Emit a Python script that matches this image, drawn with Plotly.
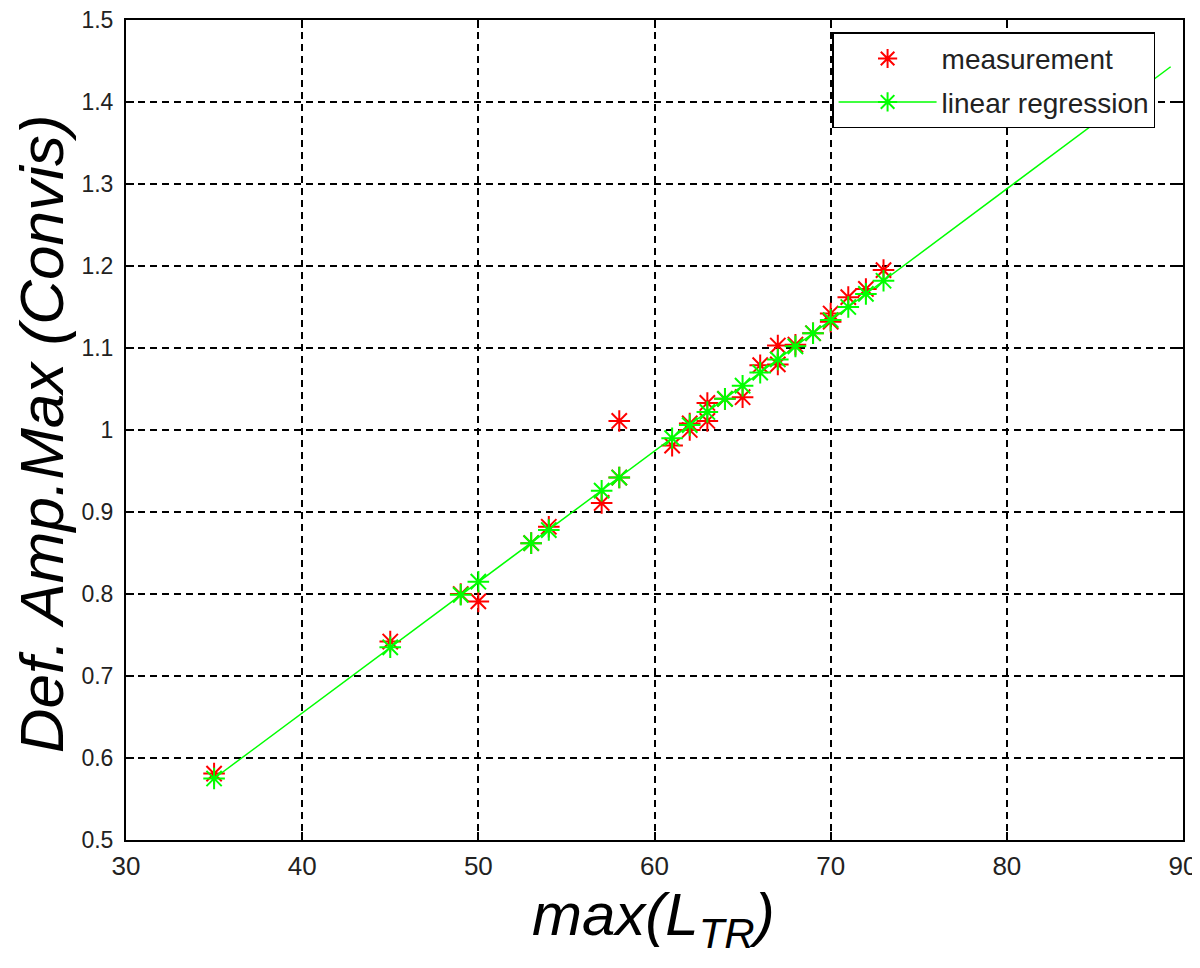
import plotly.graph_objects as go

# measurement data (red)
meas_x = [35, 45, 49, 50, 53, 54, 57, 58, 58, 61, 62, 62, 63, 63, 64, 65, 66, 67, 67, 68, 69, 70, 70, 71, 72, 73]
meas_y = [0.581, 0.742, 0.800, 0.791, 0.862, 0.882, 0.911, 1.011, 0.942, 0.981, 1.000, 1.008, 1.033, 1.011, 1.038,
          1.040, 1.079, 1.103, 1.080, 1.104, 1.118, 1.142, 1.132, 1.162, 1.172, 1.195]

# linear regression evaluated at measurement positions (green)
fit_x = [35, 45, 49, 50, 53, 54, 57, 58, 61, 62, 63, 64, 65, 66, 67, 68, 69, 70, 71, 72, 73]
fit_y = [0.575, 0.735, 0.799, 0.815, 0.862, 0.878, 0.926, 0.942, 0.990, 1.006, 1.022, 1.038, 1.054,
         1.070, 1.086, 1.102, 1.118, 1.134, 1.150, 1.166, 1.182]
# extension of the regression line (no markers)
ext_x = [73, 89.3]
ext_y = [1.182, 1.443]

x_ticks = [30, 40, 50, 60, 70, 80, 90]
y_ticks = [0.5, 0.6, 0.7, 0.8, 0.9, 1.0, 1.1, 1.2, 1.3, 1.4, 1.5]
y_tick_text = ["0.5", "0.6", "0.7", "0.8", "0.9", "1", "1.1", "1.2", "1.3", "1.4", "1.5"]

RED = "rgb(255,0,0)"
GREEN = "rgb(0,255,0)"

fig = go.Figure()
fig.add_trace(go.Scatter(
    x=ext_x, y=ext_y, mode="lines", line=dict(color=GREEN, width=1.5),
    showlegend=False, hoverinfo="skip"))
fig.add_trace(go.Scatter(
    x=meas_x, y=meas_y, mode="markers", name="measurement", legendgroup="a",
    marker=dict(symbol="asterisk-open", size=18, color=RED, line=dict(color=RED, width=2))))
fig.add_trace(go.Scatter(
    x=fit_x, y=fit_y, mode="lines+markers", name="linear regression", legendgroup="b",
    line=dict(color=GREEN, width=1.5),
    marker=dict(symbol="asterisk-open", size=18, color=GREEN, line=dict(color=GREEN, width=2))))

axis_common = dict(
    showline=True, linecolor="black", linewidth=2, mirror="ticks",
    ticks="inside", ticklen=8, tickwidth=1.5, tickcolor="black",
    showgrid=True, gridcolor="black", gridwidth=1.8, griddash="7px,5px",
    zeroline=False, automargin=False, ticklabeloverflow="allow",
)

fig.update_xaxes(
    range=[30, 90], tickvals=x_ticks, **axis_common,
    tickfont=dict(family="Liberation Sans, Arial", size=26, color="#222"),
    ticklabelstandoff=2,
)
fig.update_yaxes(
    range=[0.5, 1.5], tickvals=y_ticks, ticktext=y_tick_text, **axis_common,
    tickfont=dict(family="Liberation Sans, Arial", size=23, color="#222"),
    ticklabelstandoff=6,
)

# axis titles
fig.add_annotation(
    text="<i>max(L<sub>TR</sub>)</i>", xref="paper", yref="paper",
    x=0.4986, y=-0.048, xanchor="center", yanchor="top", showarrow=False,
    font=dict(family="Liberation Sans, Arial", size=60, color="black"),
)
fig.add_annotation(
    text="<i>Def. Amp.Max (Convis)</i>", xref="paper", yref="paper",
    x=-0.0805, y=0.496, xanchor="center", yanchor="middle", showarrow=False,
    textangle=-90,
    font=dict(family="Liberation Sans, Arial", size=62, color="black"),
)

# body of the page has an 8px margin, so margins are offset by 8px
fig.update_layout(
    width=1200, height=968,
    margin=dict(l=118, r=25, t=12, b=136),
    paper_bgcolor="white", plot_bgcolor="white",
    legend=dict(x=0.668, y=0.985, xanchor="left", yanchor="top",
                bgcolor="white", bordercolor="black", borderwidth=1.5,
                font=dict(family="Liberation Sans, Arial", size=28, color="#222"),
                itemwidth=98, tracegroupgap=4),
)

fig.write_html("out.html")
